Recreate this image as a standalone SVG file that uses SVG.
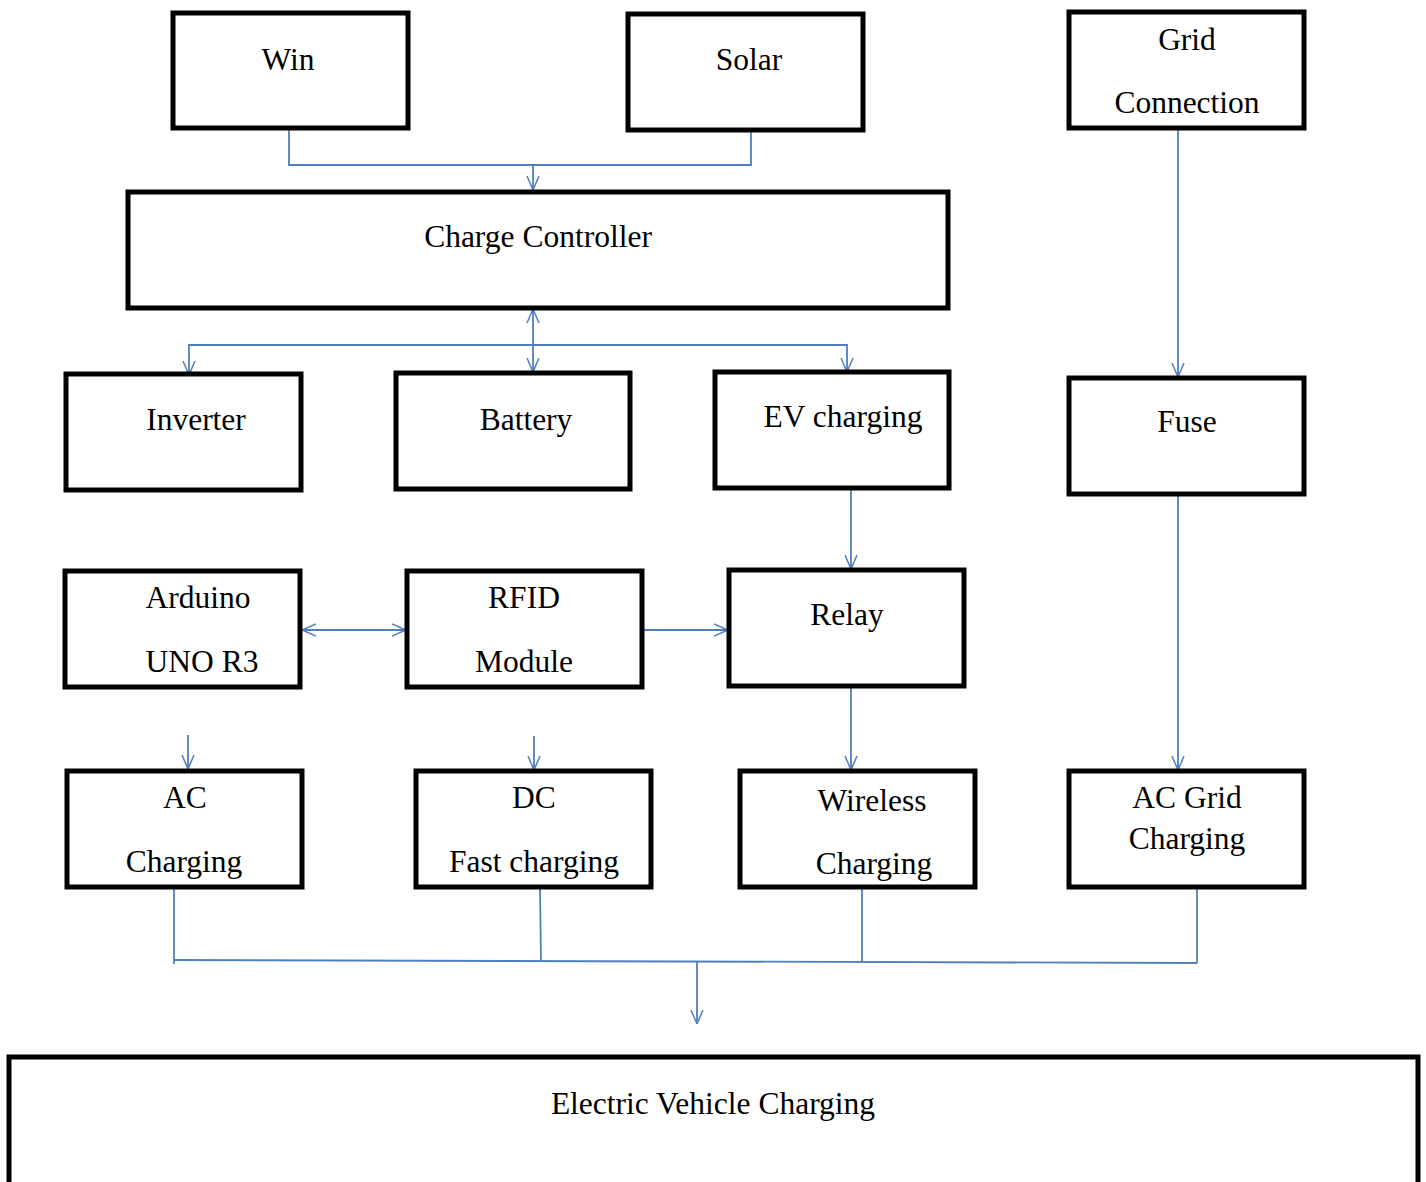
<svg xmlns="http://www.w3.org/2000/svg" width="1426" height="1182" viewBox="0 0 1426 1182">
<defs>
<style>
.box{fill:#fff;stroke:#000;stroke-width:5}
.t{font-family:"Liberation Serif","Times New Roman",serif;font-size:31.5px;fill:#000;text-anchor:middle}
.c{fill:none;stroke:#4f7fbe;stroke-width:1.8}
</style>
<marker id="a" viewBox="0 0 14 14" refX="14" refY="7" markerWidth="14" markerHeight="14" markerUnits="userSpaceOnUse" orient="auto-start-reverse">
<path d="M0,1 L14,7 L0,13" fill="none" stroke="#4f7fbe" stroke-width="1.5"/>
</marker>
</defs>
<rect width="1426" height="1182" fill="#fff"/>
<g id="connectors">
<polyline class="c" points="289,128 289,165 751,165 751,130"/>
<line class="c" x1="533" y1="165" x2="533" y2="190" marker-end="url(#a)"/>
<line class="c" x1="533" y1="309" x2="533" y2="372" marker-start="url(#a)" marker-end="url(#a)"/>
<polyline class="c" points="189,375 189,345 847,345 847,372" marker-start="url(#a)" marker-end="url(#a)"/>
<line class="c" x1="1178" y1="128" x2="1178" y2="377" marker-end="url(#a)"/>
<line class="c" x1="851" y1="488" x2="851" y2="569" marker-end="url(#a)"/>
<line class="c" x1="302" y1="630" x2="406" y2="630" marker-start="url(#a)" marker-end="url(#a)"/>
<line class="c" x1="642" y1="630" x2="728" y2="630" marker-end="url(#a)"/>
<line class="c" x1="188" y1="735" x2="188" y2="769" marker-end="url(#a)"/>
<line class="c" x1="534" y1="736" x2="534" y2="770" marker-end="url(#a)"/>
<line class="c" x1="851" y1="686" x2="851" y2="770" marker-end="url(#a)"/>
<line class="c" x1="1178" y1="494" x2="1178" y2="770" marker-end="url(#a)"/>
<line class="c" x1="174" y1="887" x2="174" y2="964"/>
<line class="c" x1="540" y1="887" x2="541" y2="961"/>
<line class="c" x1="862" y1="887" x2="862" y2="962"/>
<line class="c" x1="1197" y1="887" x2="1197" y2="963"/>
<line class="c" x1="174" y1="960" x2="1197" y2="963"/>
<line class="c" x1="697" y1="962" x2="697" y2="1024" marker-end="url(#a)"/>
</g>
<g id="win"><rect class="box" x="173" y="13" width="235" height="115"/><text class="t" x="288" y="70">Win</text></g>
<g id="solar"><rect class="box" x="628" y="14" width="235" height="116"/><text class="t" x="749" y="70">Solar</text></g>
<g id="grid"><rect class="box" x="1069" y="12" width="235" height="116"/><text class="t" x="1187" y="50">Grid</text><text class="t" x="1187" y="113">Connection</text></g>
<g id="charge-controller"><rect class="box" x="128" y="192" width="820" height="116"/><text class="t" x="538" y="247">Charge Controller</text></g>
<g id="inverter"><rect class="box" x="66" y="374" width="235" height="116"/><text class="t" x="196" y="430">Inverter</text></g>
<g id="battery"><rect class="box" x="396" y="373" width="234" height="116"/><text class="t" x="526" y="430">Battery</text></g>
<g id="ev-charging"><rect class="box" x="715" y="372" width="234" height="116"/><text class="t" x="843" y="427">EV charging</text></g>
<g id="fuse"><rect class="box" x="1069" y="378" width="235" height="116"/><text class="t" x="1187" y="432">Fuse</text></g>
<g id="arduino"><rect class="box" x="65" y="571" width="235" height="116"/><text class="t" x="198" y="608">Arduino</text><text class="t" x="202" y="672">UNO R3</text></g>
<g id="rfid"><rect class="box" x="407" y="571" width="235" height="116"/><text class="t" x="524" y="608">RFID</text><text class="t" x="524" y="672">Module</text></g>
<g id="relay"><rect class="box" x="729" y="570" width="235" height="116"/><text class="t" x="847" y="625">Relay</text></g>
<g id="ac-charging"><rect class="box" x="67" y="771" width="235" height="116"/><text class="t" x="185" y="808">AC</text><text class="t" x="184" y="872">Charging</text></g>
<g id="dc-charging"><rect class="box" x="416" y="771" width="235" height="116"/><text class="t" x="534" y="808">DC</text><text class="t" x="534" y="872">Fast charging</text></g>
<g id="wireless"><rect class="box" x="740" y="771" width="235" height="116"/><text class="t" x="872" y="811">Wireless</text><text class="t" x="874" y="874">Charging</text></g>
<g id="ac-grid"><rect class="box" x="1069" y="771" width="235" height="116"/><text class="t" x="1187" y="808">AC Grid</text><text class="t" x="1187" y="849">Charging</text></g>
<g id="ev"><rect class="box" x="9" y="1057" width="1409" height="140"/><text class="t" x="713" y="1114">Electric Vehicle Charging</text></g>
</svg>
